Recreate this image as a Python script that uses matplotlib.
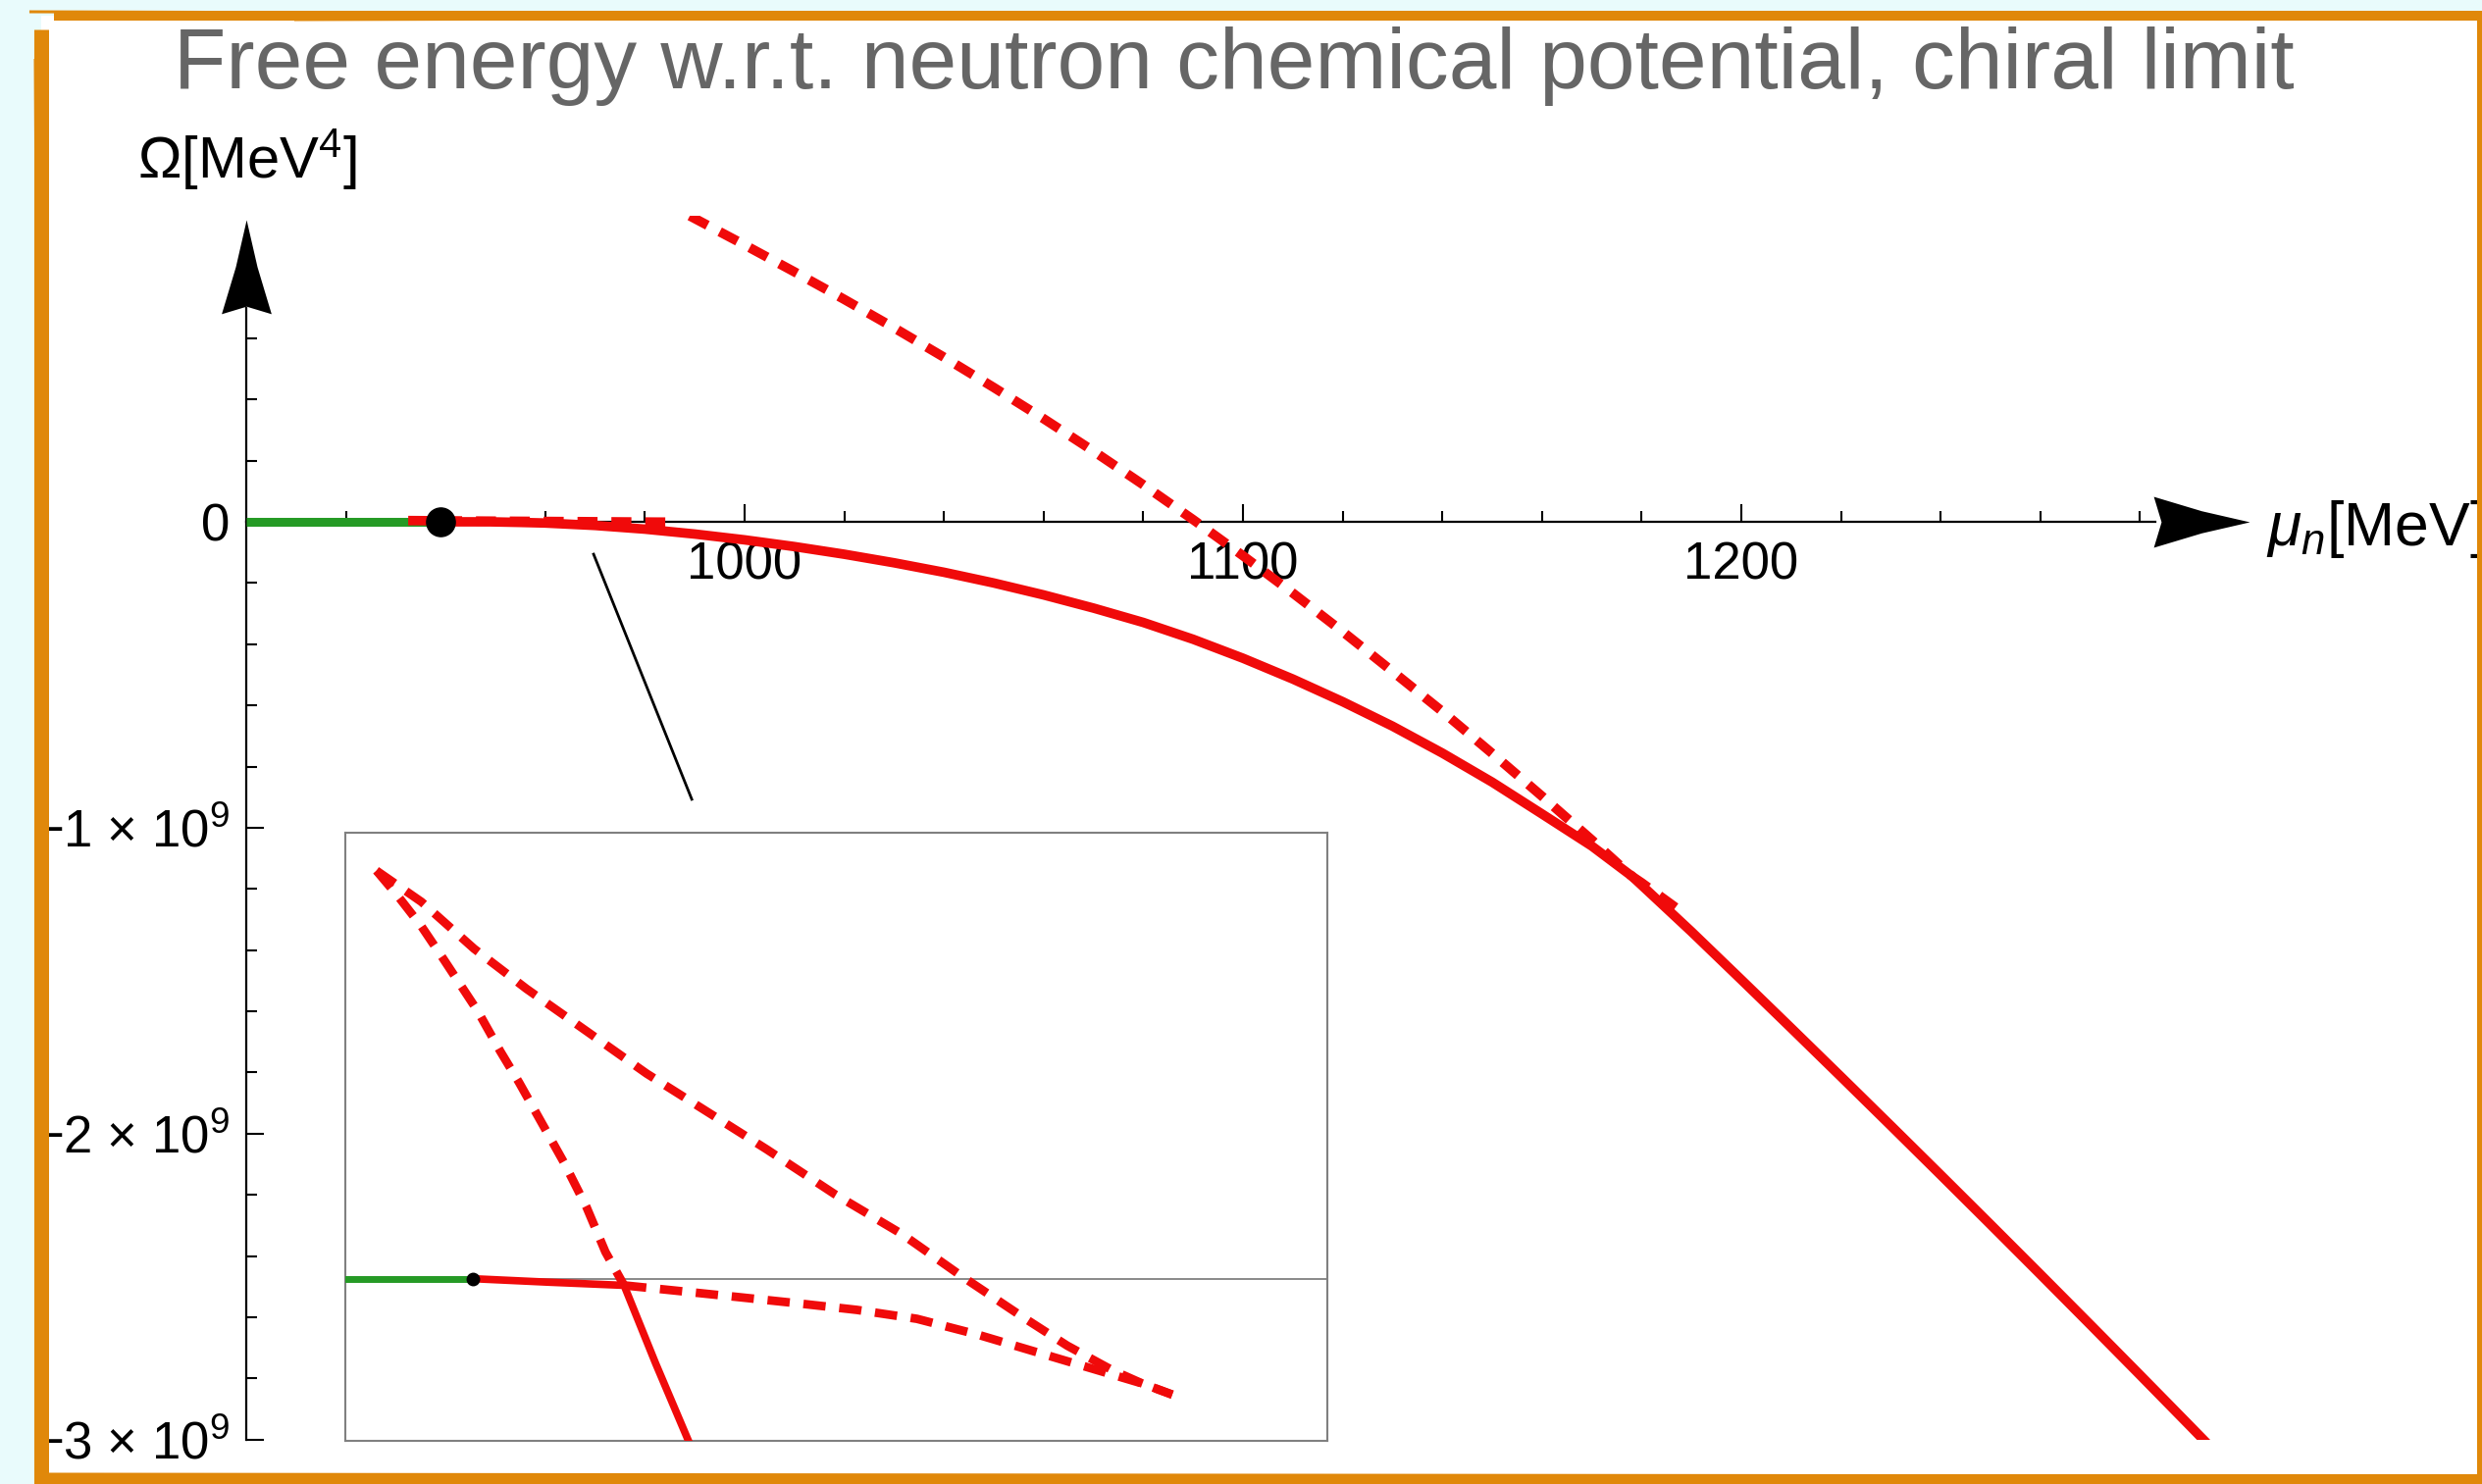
import numpy as np
import matplotlib
matplotlib.use("Agg")
import matplotlib.pyplot as plt
from matplotlib.path import Path
from matplotlib.patches import Rectangle
from matplotlib.lines import Line2D

plt.rcParams['font.family'] = ['Liberation Sans', 'DejaVu Sans']
plt.rcParams['mathtext.fontset'] = 'custom'
plt.rcParams['mathtext.rm'] = 'Liberation Sans'
plt.rcParams['mathtext.it'] = 'Liberation Sans:italic'

# --- DATA ---
TITLE = "Free energy w.r.t. neutron chemical potential, chiral limit"

# vacuum branch (Omega = 0) up to the onset point
MU_VAC = [900, 939]
OM_VAC = [0, 0]
MU_ONSET, OM_ONSET = 939, 0

# nuclear branch, Omega in units of 1e9 MeV^4
MU_NUC = [939, 949, 955, 960, 970, 980, 990, 1000, 1010, 1020, 1030, 1040,
          1050, 1060, 1070, 1080, 1090, 1100, 1110, 1120, 1130, 1140, 1150,
          1160, 1170, 1178, 1180, 1187]
OM_NUC = [0, -0.0001, -0.002, -0.004, -0.012, -0.024, -0.040, -0.059, -0.081,
          -0.106, -0.134, -0.165, -0.200, -0.239, -0.282, -0.329, -0.384,
          -0.446, -0.514, -0.588, -0.668, -0.756, -0.851, -0.955, -1.060,
          -1.158, -1.180, -1.263]

# quark branch, Omega in units of 1e9 MeV^4
MU_QRK = [989, 1000, 1010, 1020, 1030, 1040, 1050, 1060, 1070, 1080, 1090,
          1100, 1110, 1120, 1130, 1140, 1150, 1160, 1170, 1178, 1180, 1190,
          1200, 1210, 1220, 1230, 1240, 1250, 1260, 1270, 1280, 1290, 1300]
OM_QRK = [1.00, 0.905, 0.817, 0.727, 0.634, 0.538, 0.439, 0.337, 0.231, 0.121,
          0.007, -0.111, -0.233, -0.359, -0.489, -0.620, -0.757, -0.897,
          -1.040, -1.158, -1.188, -1.340, -1.497, -1.655, -1.814, -1.974,
          -2.135, -2.297, -2.460, -2.624, -2.789, -2.955, -3.122]
MU_CROSS = 1178

# swallowtail close to the onset (inset), Omega in units of 1e6 MeV^4
MU_SW_STABLE = [939.0, 944.15, 949.22]
OM_SW_STABLE = [0.0, -0.035, -0.066]
MU_SW_STEEP = [949.22, 951.35, 953.8]
OM_SW_STEEP = [-0.066, -0.836, -1.68]
MU_SW_UP = [932.50, 934.02, 935.54, 937.06, 939.34, 940.86, 942.13, 943.65,
            945.17, 946.69, 947.96, 949.22]
OM_SW_UP = [4.026, 3.762, 3.476, 3.146, 2.640, 2.244, 1.936, 1.540, 1.144,
            0.704, 0.264, -0.066]
MU_SW_MID = [932.50, 935.54, 939.09, 942.63, 946.69, 950.74, 954.80, 958.85,
             963.42, 967.98, 972.04, 976.09, 979.13, 982.17, 984.20, 986.23]
OM_SW_MID = [4.026, 3.718, 3.256, 2.860, 2.442, 2.024, 1.650, 1.276, 0.836,
             0.440, 0.022, -0.374, -0.660, -0.902, -1.034, -1.144]
MU_SW_LOW = [949.22, 952.77, 956.83, 960.88, 964.94, 968.99, 973.05, 977.10,
             981.16, 984.20, 986.23]
OM_SW_LOW = [-0.066, -0.119, -0.180, -0.242, -0.308, -0.396, -0.550, -0.726,
             -0.902, -1.034, -1.144]

# ticks
X_MAJOR = [1000, 1100, 1200]
X_MINOR = [920, 940, 960, 980, 1020, 1040, 1060, 1080, 1120, 1140, 1160, 1180,
           1220, 1240, 1260, 1280]
Y_MAJOR = [0, -1, -2, -3]
Y_LABELS = ["0", "\u22121 \u00d7 10$^{9}$", "\u22122 \u00d7 10$^{9}$", "\u22123 \u00d7 10$^{9}$"]
Y_MINOR = [0.6, 0.4, 0.2, -0.2, -0.4, -0.6, -0.8, -1.2, -1.4, -1.6, -1.8,
           -2.2, -2.4, -2.6, -2.8]

# pointer from the zoomed region to the inset
POINTER_MU = [969.7, 989.4]
POINTER_OM = [-0.106, -0.907]

# --- STYLE ---
W, H = 2530, 1513
BG = "#e9fbfc"
ORANGE = "#e0880a"
RED = "#f00a0a"
GREEN = "#259a25"
PX = 0.72  # points per pixel at dpi 100


def fig_box(x0, y0, x1, y1):
    return [x0 / W, 1 - y1 / H, (x1 - x0) / W, (y1 - y0) / H]


def arrow_marker(angle):
    v = np.array([[0, 0], [-0.5, 0.115], [-1, 0.265], [-0.92, 0],
                  [-1, -0.265], [-0.5, -0.115], [0, 0]])
    t = np.deg2rad(angle)
    rot = np.array([[np.cos(t), -np.sin(t)], [np.sin(t), np.cos(t)]])
    return Path(v @ rot.T, closed=True)


fig = plt.figure(figsize=(W / 100, H / 100), dpi=100, facecolor=BG)

# white slide area and sketchy orange frame
fig.add_artist(Rectangle((42 / W, 0), 1, 1 - 16 / H, transform=fig.transFigure,
                         facecolor="white", edgecolor="none", zorder=-10))
frame = [
    ([55, W], [16, 16], 10), ([30, W], [12, 19], 3), ([300, W], [20, 14], 3),
    ([42, 42], [30, H], 15), ([36, 44], [60, H], 3),
    ([42, W], [1508, 1508], 11), ([42, W], [1503, 1505], 3),
    ([2528, 2528], [16, H], 6),
]
for xs, ys, lw in frame:
    fig.add_artist(Line2D([x / W for x in xs], [1 - y / H for y in ys],
                          transform=fig.transFigure, color=ORANGE, lw=lw * PX,
                          solid_capstyle="butt", zorder=20))

fig.text(1258 / W, 1 - 90 / H, TITLE, ha="center", va="baseline",
         color="#666666", fontsize=63)
fig.text(140 / W, 1 - 182 / H, "\u03a9[MeV$^{4}$]", ha="left", va="baseline",
         fontsize=43)
fig.text(2310 / W, 1 - 556 / H, r"$\mu_n$[MeV]", ha="left", va="baseline",
         fontsize=45)

# --- MAIN AXES ---
ax = fig.add_axes(fig_box(251, 220.1, 2293.2, 1467.7))
ax.set_facecolor("none")
ax.set_xlim(900, 1302)
ax.set_ylim(-3, 1)
for s in ["top", "right"]:
    ax.spines[s].set_visible(False)
ax.spines["left"].set_position(("data", 900))
ax.spines["bottom"].set_position(("data", 0))
ax.spines["left"].set_bounds(-3, 0.7)
ax.spines["bottom"].set_bounds(900, 1283)
for s in ["left", "bottom"]:
    ax.spines[s].set_linewidth(1.6)

ax.set_xticks(X_MAJOR)
ax.set_xticks(X_MINOR, minor=True)
ax.set_yticks(Y_MAJOR, labels=Y_LABELS)
ax.set_yticks(Y_MINOR, minor=True)
ax.tick_params(which="both", direction="in", width=1.5, labelsize=38)
ax.tick_params(which="major", length=13)
ax.tick_params(which="minor", length=8)
ax.tick_params(axis="x", pad=14)
ax.tick_params(axis="y", pad=12)

mu_n, om_n = np.array(MU_NUC), np.array(OM_NUC)
mu_q, om_q = np.array(MU_QRK), np.array(OM_QRK)
dash_main = (2.1, 1.45)

ax.plot(MU_VAC, OM_VAC, color=GREEN, lw=6.5, zorder=3, solid_capstyle="butt")
ax.plot(MU_SW_MID, np.array(OM_SW_MID) * 1e-3, color=RED, lw=7,
        dashes=dash_main, zorder=3)
ax.plot(mu_q[mu_q <= MU_CROSS], om_q[mu_q <= MU_CROSS], color=RED, lw=7,
        dashes=dash_main, zorder=3)
ax.plot(mu_n[mu_n >= MU_CROSS], om_n[mu_n >= MU_CROSS], color=RED, lw=7,
        dashes=dash_main, zorder=3)
ax.plot(np.r_[mu_n[mu_n <= MU_CROSS], mu_q[mu_q > MU_CROSS]],
        np.r_[om_n[mu_n <= MU_CROSS], om_q[mu_q > MU_CROSS]],
        color=RED, lw=7, zorder=3, solid_joinstyle="round")
ax.plot([MU_ONSET], [OM_ONSET], "o", color="black", ms=21, zorder=4)
ax.plot(POINTER_MU, POINTER_OM, color="black", lw=2, zorder=3)

# axis arrowheads
ax.plot([1302], [0], marker=arrow_marker(0), ms=141, color="black", mew=0,
        clip_on=False, zorder=5)
ax.plot([900], [0.9875], marker=arrow_marker(90), ms=138, color="black", mew=0,
        clip_on=False, zorder=5)

# --- INSET ---
axi = fig.add_axes(fig_box(352, 849, 1353, 1469), zorder=2)
axi.set_facecolor("white")
axi.set_xlim(930.4, 996.7)
axi.set_ylim(-1.6, 4.4)
axi.set_xticks([])
axi.set_yticks([])
for s in axi.spines.values():
    s.set_color("#808080")
    s.set_linewidth(1.5)
axi.axhline(0, color="#808080", lw=1.3, zorder=1)
dash_in = (2.6, 1.6)
axi.plot(MU_VAC, OM_VAC, color=GREEN, lw=5, zorder=3, solid_capstyle="butt")
axi.plot(MU_SW_UP, OM_SW_UP, color=RED, lw=6.3, dashes=dash_in, zorder=3)
axi.plot(MU_SW_MID, OM_SW_MID, color=RED, lw=6.3, dashes=dash_in, zorder=3)
axi.plot(MU_SW_LOW, OM_SW_LOW, color=RED, lw=6.3, dashes=dash_in, zorder=3)
axi.plot(MU_SW_STABLE + MU_SW_STEEP[1:], OM_SW_STABLE + OM_SW_STEEP[1:],
         color=RED, lw=5.5, zorder=3)
axi.plot([MU_ONSET], [OM_ONSET], "o", color="black", ms=9, zorder=4)

fig.savefig("out.png", dpi=100, facecolor=BG)
